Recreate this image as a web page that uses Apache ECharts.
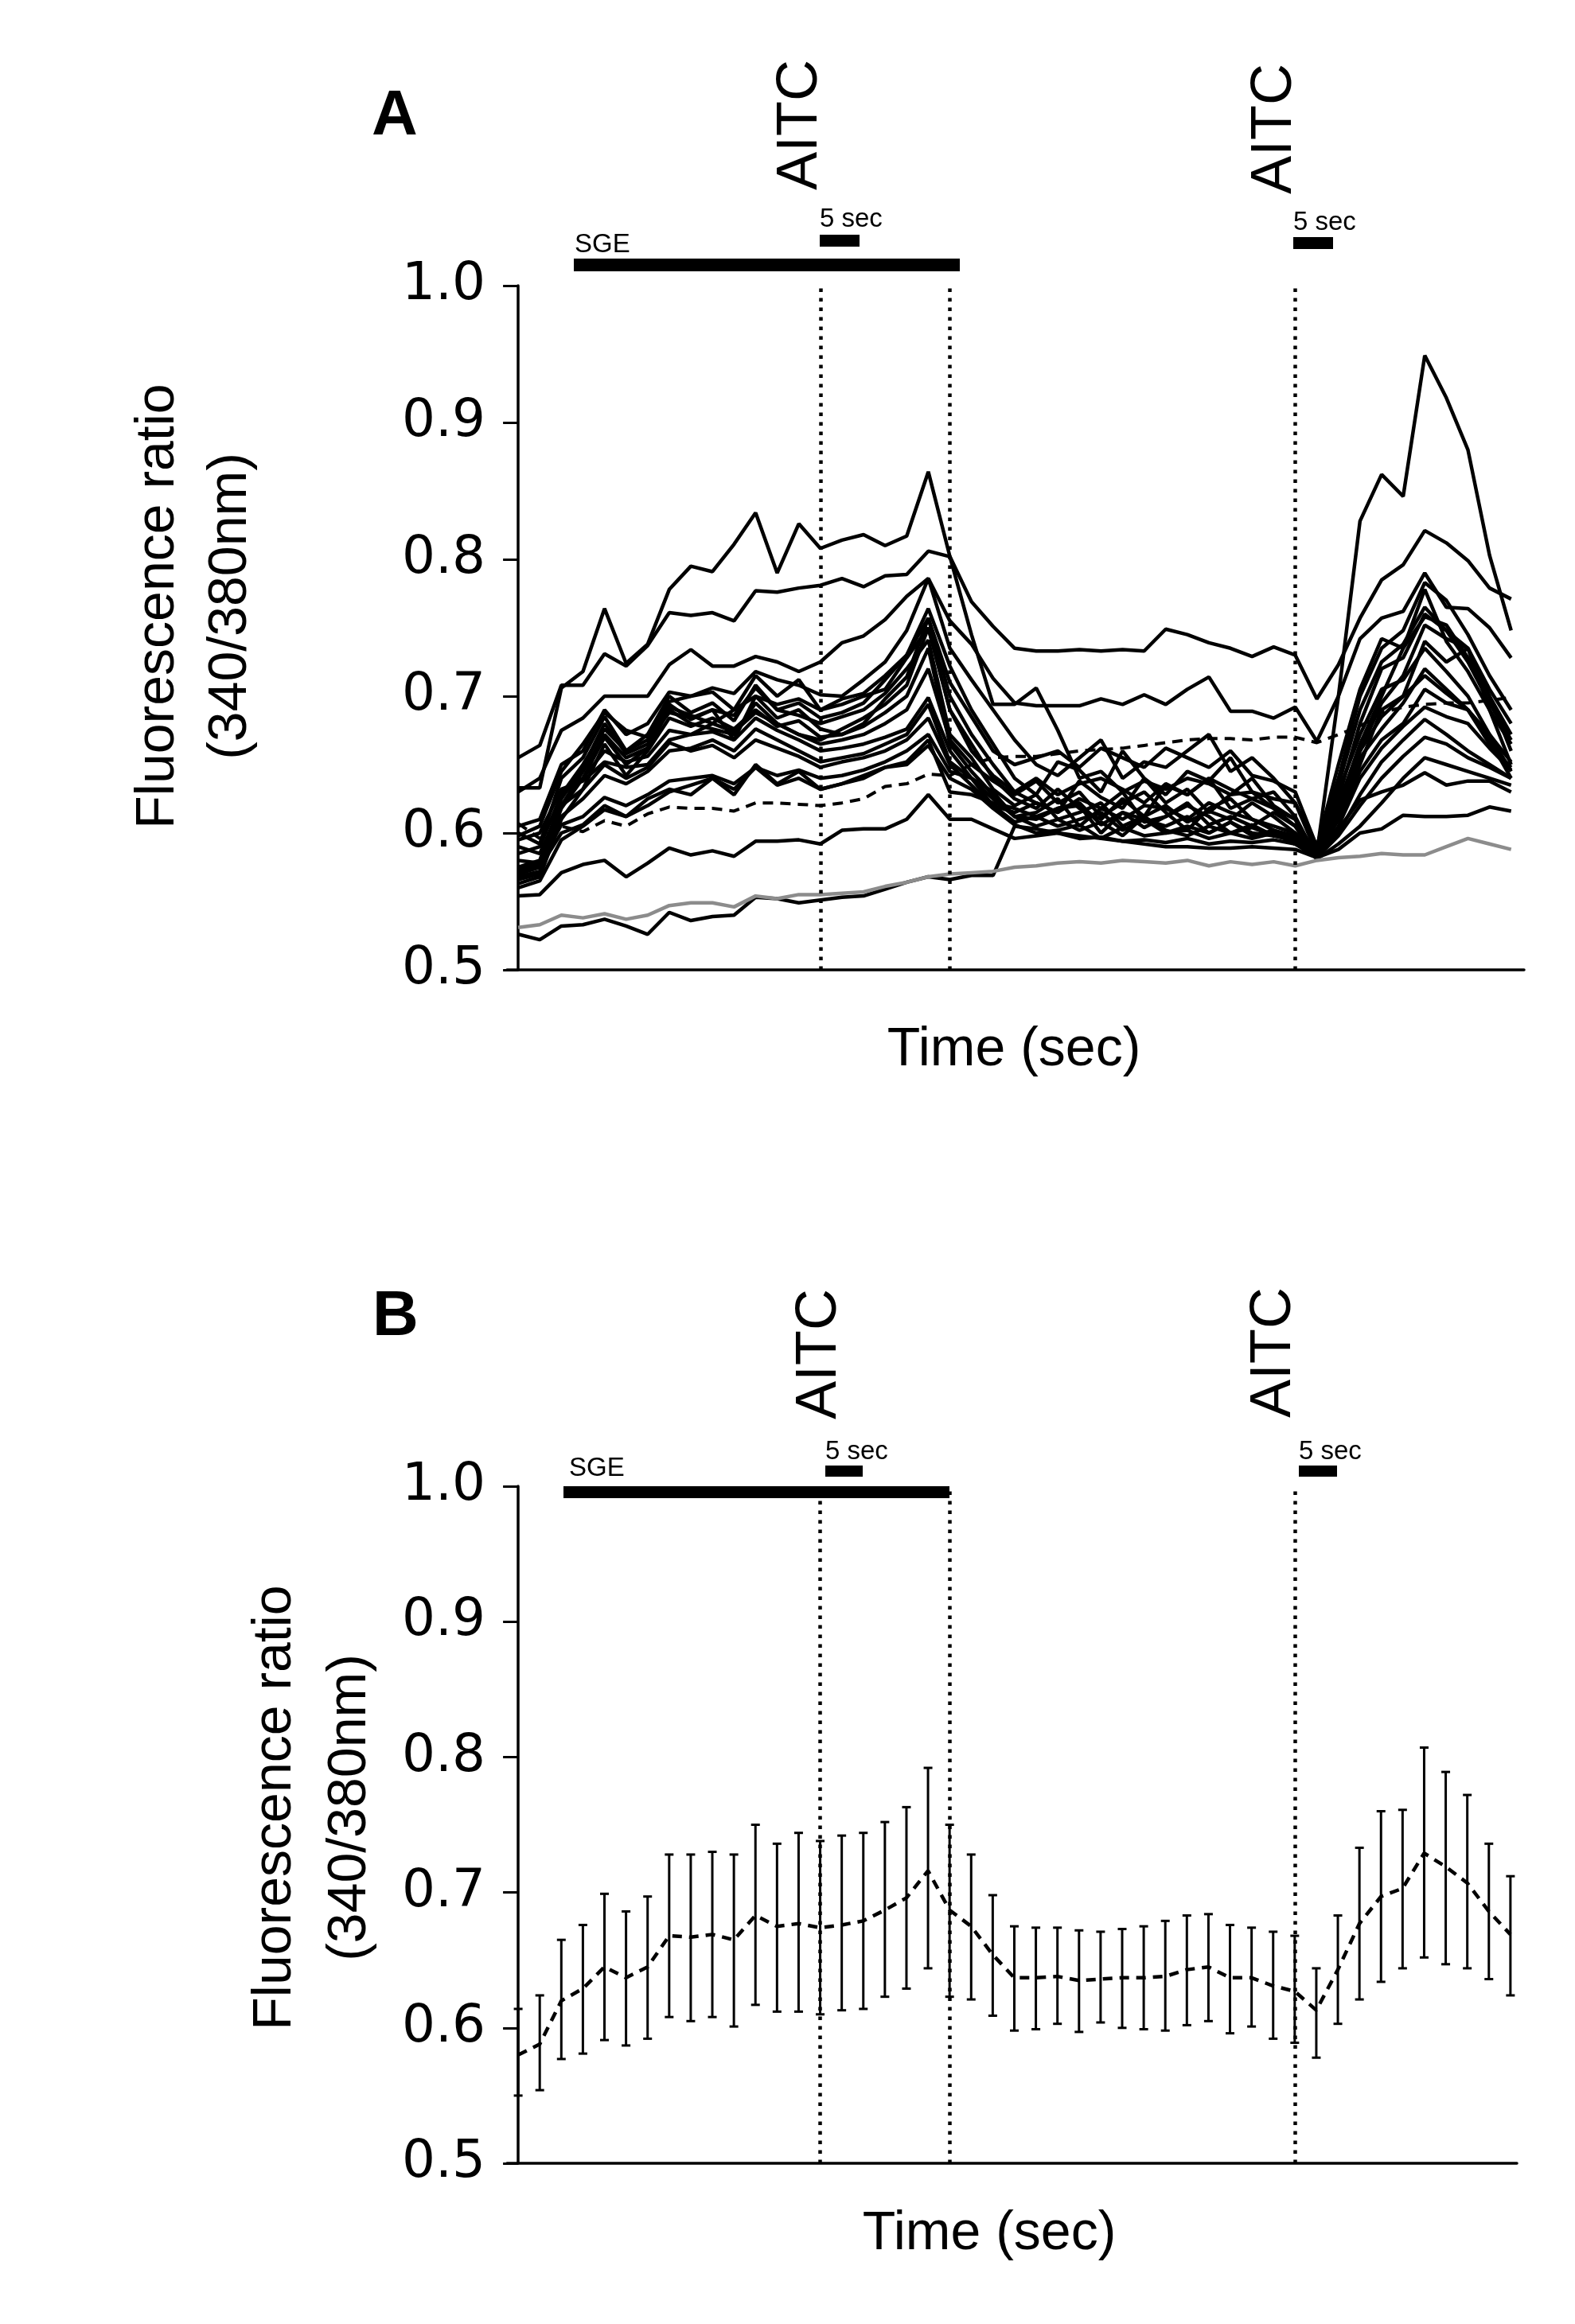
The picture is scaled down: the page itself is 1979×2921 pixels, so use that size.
<!DOCTYPE html>
<html>
<head>
<meta charset="utf-8">
<script src="https://cdn.jsdelivr.net/npm/echarts/dist/echarts.min.js"></script>
<style>
  html, body { margin: 0; padding: 0; background: #fff; }
  #chart { width: 1979px; height: 2921px; }
</style>
</head>
<body>
<div id="chart"></div>
<script>
// frame index (time points)
var frames = [0,1,2,3,4,5,6,7,8,9,10,11,12,13,14,15,16,17,18,19,20,21,22,23,24,25,26,27,28,29,30,31,32,33,34,35,36,37,38,39,40,41,42,43,44,45,46];
var yTicks = [0.5, 0.6, 0.7, 0.8, 0.9, 1.0];
var stimFrames = [14, 20, 36]; // AITC on, SGE off / AITC off, AITC on

// panel A: individual cells
var cell01 = [0.633,0.633,0.706,0.718,0.764,0.724,0.738,0.778,0.795,0.791, 0.811,0.834,0.790,0.826,0.808,0.814,0.818,0.810,0.817,0.864, 0.802,0.769,0.751,0.735,0.733,0.733,0.734,0.733,0.734,0.733, 0.749,0.745,0.739,0.735,0.729,0.736,0.730,0.698,0.723,0.757, 0.785,0.796,0.821,0.812,0.799,0.779,0.771];
var cell02 = [0.655,0.664,0.708,0.708,0.731,0.722,0.737,0.761,0.759,0.761, 0.755,0.777,0.776,0.779,0.781,0.786,0.780,0.788,0.789,0.806, 0.802,0.745,0.694,0.694,0.706,0.675,0.640,0.645,0.630,0.638, 0.632,0.640,0.636,0.628,0.630,0.625,0.622,0.585,0.700,0.828, 0.862,0.846,0.949,0.918,0.880,0.803,0.748];
var cell03 = [0.630,0.640,0.675,0.684,0.700,0.700,0.700,0.723,0.734,0.722, 0.722,0.729,0.725,0.718,0.725,0.739,0.744,0.756,0.773,0.786, 0.755,0.738,0.713,0.695,0.693,0.693,0.693,0.698,0.694,0.701, 0.694,0.705,0.714,0.689,0.689,0.684,0.692,0.667,0.700,0.742, 0.757,0.762,0.790,0.765,0.764,0.750,0.728];
var cell04 = [0.605,0.610,0.650,0.660,0.690,0.672,0.680,0.703,0.700,0.706, 0.702,0.718,0.712,0.708,0.701,0.700,0.712,0.725,0.748,0.786, 0.735,0.712,0.690,0.668,0.650,0.642,0.655,0.668,0.640,0.652, 0.648,0.660,0.672,0.645,0.655,0.640,0.622,0.590,0.640,0.700, 0.735,0.748,0.783,0.770,0.745,0.715,0.690];
var cell05 = [0.600,0.592,0.640,0.655,0.685,0.660,0.672,0.700,0.688,0.695, 0.682,0.708,0.690,0.695,0.684,0.688,0.695,0.712,0.730,0.764, 0.722,0.690,0.665,0.640,0.628,0.652,0.646,0.630,0.660,0.640, 0.628,0.645,0.638,0.655,0.630,0.618,0.605,0.582,0.625,0.680, 0.720,0.728,0.760,0.748,0.735,0.705,0.680];
var cell06 = [0.575,0.580,0.625,0.648,0.680,0.658,0.665,0.694,0.683,0.690, 0.668,0.700,0.684,0.690,0.676,0.672,0.680,0.698,0.714,0.757, 0.700,0.672,0.650,0.630,0.622,0.615,0.638,0.626,0.618,0.640, 0.622,0.632,0.615,0.628,0.640,0.620,0.610,0.583,0.620,0.665, 0.700,0.735,0.778,0.740,0.718,0.690,0.665];
var cell07 = [0.570,0.575,0.618,0.640,0.670,0.650,0.662,0.690,0.680,0.676, 0.672,0.695,0.680,0.672,0.668,0.676,0.684,0.694,0.708,0.750, 0.690,0.665,0.640,0.625,0.618,0.632,0.618,0.610,0.625,0.612, 0.635,0.628,0.640,0.618,0.625,0.630,0.612,0.582,0.615,0.660, 0.695,0.715,0.752,0.742,0.735,0.700,0.660];
var cell08 = [0.566,0.570,0.628,0.650,0.676,0.660,0.668,0.688,0.684,0.690, 0.686,0.706,0.690,0.686,0.680,0.685,0.690,0.702,0.720,0.741, 0.672,0.655,0.632,0.620,0.628,0.610,0.615,0.622,0.605,0.612, 0.620,0.608,0.616,0.610,0.622,0.612,0.600,0.582,0.612,0.650, 0.690,0.700,0.740,0.725,0.735,0.690,0.650];
var cell09 = [0.563,0.568,0.610,0.632,0.665,0.642,0.660,0.684,0.678,0.684, 0.676,0.690,0.678,0.682,0.670,0.672,0.678,0.688,0.700,0.735, 0.665,0.645,0.628,0.612,0.615,0.625,0.605,0.618,0.630,0.608, 0.612,0.622,0.606,0.612,0.605,0.615,0.605,0.582,0.630,0.672, 0.705,0.712,0.735,0.718,0.700,0.672,0.645];
var cell10 = [0.585,0.590,0.628,0.640,0.660,0.652,0.656,0.675,0.672,0.680, 0.674,0.688,0.680,0.672,0.665,0.668,0.672,0.680,0.690,0.720, 0.668,0.650,0.638,0.628,0.638,0.622,0.630,0.612,0.622,0.630, 0.615,0.602,0.618,0.625,0.610,0.602,0.598,0.583,0.618,0.655, 0.676,0.695,0.720,0.705,0.690,0.668,0.640];
var cell11 = [0.595,0.600,0.632,0.638,0.652,0.648,0.650,0.668,0.672,0.674, 0.668,0.684,0.675,0.668,0.660,0.662,0.665,0.670,0.676,0.699, 0.660,0.640,0.625,0.612,0.610,0.618,0.620,0.600,0.615,0.604, 0.612,0.620,0.612,0.600,0.606,0.598,0.595,0.582,0.610,0.645, 0.668,0.680,0.705,0.695,0.690,0.672,0.652];
var cell12 = [0.580,0.578,0.612,0.625,0.642,0.636,0.645,0.660,0.662,0.668, 0.660,0.676,0.668,0.660,0.652,0.655,0.658,0.665,0.672,0.694, 0.652,0.640,0.620,0.608,0.612,0.605,0.610,0.615,0.602,0.610, 0.600,0.605,0.600,0.608,0.598,0.602,0.596,0.582,0.605,0.640, 0.662,0.678,0.692,0.685,0.680,0.662,0.646];
var cell13 = [0.574,0.577,0.606,0.612,0.626,0.620,0.628,0.638,0.640,0.642, 0.636,0.648,0.642,0.646,0.640,0.642,0.646,0.652,0.660,0.672, 0.645,0.640,0.630,0.612,0.605,0.610,0.602,0.608,0.598,0.612, 0.602,0.598,0.605,0.600,0.604,0.598,0.594,0.582,0.600,0.628, 0.652,0.668,0.683,0.672,0.660,0.650,0.640];
var cell14 = [0.560,0.565,0.595,0.605,0.617,0.612,0.620,0.630,0.635,0.640, 0.628,0.650,0.636,0.645,0.632,0.636,0.640,0.648,0.650,0.664, 0.640,0.632,0.618,0.606,0.600,0.602,0.606,0.596,0.604,0.598, 0.600,0.602,0.596,0.600,0.596,0.600,0.592,0.582,0.598,0.620, 0.640,0.656,0.670,0.665,0.655,0.648,0.640];
var cell15 = [0.598,0.605,0.645,0.665,0.688,0.675,0.670,0.696,0.700,0.703, 0.690,0.715,0.700,0.712,0.690,0.698,0.702,0.715,0.730,0.757, 0.710,0.685,0.660,0.650,0.655,0.660,0.648,0.662,0.655,0.648, 0.662,0.655,0.648,0.660,0.642,0.638,0.630,0.590,0.650,0.705, 0.742,0.735,0.758,0.752,0.728,0.700,0.672];
var cell16 = [0.590,0.585,0.620,0.632,0.650,0.640,0.648,0.666,0.660,0.664, 0.655,0.668,0.662,0.656,0.648,0.652,0.655,0.660,0.668,0.684, 0.650,0.635,0.620,0.615,0.622,0.615,0.625,0.618,0.610,0.620, 0.618,0.610,0.622,0.615,0.610,0.605,0.600,0.584,0.622,0.660, 0.685,0.700,0.715,0.702,0.690,0.665,0.648];
var cell17 = [0.572,0.575,0.600,0.606,0.620,0.612,0.625,0.632,0.628,0.640, 0.632,0.648,0.635,0.640,0.632,0.636,0.642,0.648,0.652,0.668, 0.630,0.628,0.622,0.618,0.612,0.618,0.622,0.606,0.615,0.610, 0.605,0.612,0.600,0.608,0.600,0.598,0.598,0.581,0.592,0.605, 0.622,0.640,0.655,0.650,0.645,0.640,0.635];
var cell18 = [0.568,0.572,0.620,0.645,0.672,0.655,0.662,0.692,0.686,0.680, 0.690,0.700,0.694,0.698,0.690,0.694,0.700,0.705,0.728,0.750, 0.690,0.660,0.642,0.630,0.640,0.628,0.636,0.640,0.632,0.622, 0.636,0.628,0.640,0.632,0.625,0.618,0.610,0.583,0.635,0.690, 0.725,0.738,0.765,0.748,0.725,0.695,0.668];
var cell19 = [0.554,0.555,0.571,0.577,0.580,0.568,0.578,0.589,0.584,0.587, 0.583,0.594,0.594,0.595,0.592,0.602,0.603,0.603,0.610,0.628, 0.610,0.610,0.603,0.596,0.598,0.600,0.596,0.597,0.594,0.595, 0.593,0.596,0.592,0.594,0.593,0.595,0.592,0.584,0.603,0.624, 0.630,0.635,0.644,0.635,0.638,0.638,0.630];
var cell20 = [0.526,0.522,0.532,0.533,0.537,0.532,0.526,0.542,0.536,0.539, 0.540,0.553,0.552,0.549,0.551,0.553,0.554,0.559,0.564,0.568, 0.566,0.569,0.569,0.605,0.603,0.600,0.598,0.596,0.594,0.592, 0.590,0.590,0.589,0.589,0.590,0.589,0.588,0.582,0.588,0.600, 0.603,0.613,0.612,0.612,0.613,0.619,0.616];
var greyCell = [0.531,0.533,0.540,0.538,0.541,0.537,0.540,0.547,0.549,0.549, 0.546,0.554,0.552,0.555,0.555,0.556,0.557,0.561,0.564,0.568, 0.570,0.571,0.572,0.575,0.576,0.578,0.579,0.578,0.580,0.579, 0.578,0.580,0.576,0.579,0.577,0.579,0.576,0.580,0.582,0.583, 0.585,0.584,0.584,0.590,0.596,0.592,0.588];
var dashedCell = [0.607,0.596,0.605,0.601,0.609,0.605,0.614,0.619,0.618,0.618, 0.616,0.622,0.622,0.621,0.620,0.622,0.625,0.634,0.636,0.643, 0.642,0.650,0.655,0.656,0.656,0.658,0.660,0.661,0.662,0.664, 0.666,0.668,0.669,0.669,0.668,0.670,0.670,0.666,0.672,0.678, 0.688,0.692,0.694,0.695,0.695,0.697,0.699];
var blackCells = [cell01,cell02,cell03,cell04,cell05,cell06,cell07,cell08,cell09,cell10,
                  cell11,cell12,cell13,cell14,cell15,cell16,cell17,cell18,cell19,cell20];

// panel B: mean with error bars
var meanB = [0.580,0.588,0.620,0.629,0.645,0.637,0.645,0.668,0.667,0.669, 0.665,0.683,0.675,0.677,0.674,0.676,0.679,0.687,0.696,0.716, 0.687,0.675,0.654,0.637,0.637,0.638,0.635,0.636,0.637,0.637, 0.638,0.643,0.645,0.637,0.637,0.631,0.627,0.613,0.643,0.677, 0.697,0.703,0.729,0.719,0.707,0.686,0.669];
var highB = [0.614,0.624,0.665,0.676,0.699,0.686,0.697,0.728,0.728,0.730, 0.728,0.750,0.736,0.744,0.738,0.742,0.744,0.752,0.763,0.792, 0.750,0.728,0.698,0.675,0.674,0.674,0.672,0.671,0.673,0.675, 0.679,0.683,0.684,0.676,0.674,0.671,0.668,0.644,0.683,0.733, 0.760,0.761,0.807,0.789,0.772,0.736,0.712];
var lowB = [0.550,0.554,0.577,0.581,0.591,0.587,0.592,0.608,0.605,0.608, 0.601,0.617,0.612,0.612,0.610,0.613,0.614,0.623,0.629,0.644, 0.623,0.621,0.609,0.598,0.599,0.603,0.597,0.604,0.600,0.599, 0.598,0.602,0.605,0.596,0.601,0.592,0.589,0.578,0.603,0.621, 0.634,0.644,0.652,0.647,0.644,0.636,0.624];

function pairs(vals) {
  return frames.map(function (f, i) { return [f, vals[i]]; });
}

var FONT = '"Liberation Sans", Arial, sans-serif';
var TICKFONT = '"DejaVu Sans", sans-serif';

var myChart = echarts.init(document.getElementById('chart'), null, { renderer: 'canvas' });

function yAxisCfg(gi) {
  return {
    type: 'value', gridIndex: gi, min: 0.5, max: 1.0, interval: 0.1,
    axisLine: { show: true, lineStyle: { color: '#000', width: 3.5 } },
    axisTick: { show: true, length: 19, lineStyle: { color: '#000', width: 3 } },
    axisLabel: {
      color: '#000', fontSize: 66, fontFamily: TICKFONT, margin: 27,
      formatter: function (v) { return v.toFixed(1); }
    },
    splitLine: { show: false }
  };
}
function xAxisCfg(gi, maxV) {
  return {
    type: 'value', gridIndex: gi, min: -0.52, max: maxV,
    axisLine: { show: true, onZero: false, lineStyle: { color: '#000', width: 3.5 } },
    axisTick: { show: false }, axisLabel: { show: false }, splitLine: { show: false }
  };
}

var stimLine = {
  silent: true, symbol: 'none', animation: false,
  label: { show: false },
  lineStyle: { color: '#000', width: 4.5, type: [4.5, 7.5] },
  data: stimFrames.map(function (f) { return { xAxis: f }; })
};

var series = [];
blackCells.forEach(function (c) {
  series.push({
    type: 'line', xAxisIndex: 0, yAxisIndex: 0, data: pairs(c),
    showSymbol: false, silent: true, animation: false,
    lineStyle: { color: '#000', width: 4.5 }
  });
});
series.push({
  type: 'line', xAxisIndex: 0, yAxisIndex: 0, data: pairs(greyCell),
  showSymbol: false, silent: true, animation: false,
  lineStyle: { color: '#8c8c8c', width: 4.5 },
  markLine: stimLine
});
series.push({
  type: 'line', xAxisIndex: 0, yAxisIndex: 0, data: pairs(dashedCell),
  showSymbol: false, silent: true, animation: false,
  lineStyle: { color: '#000', width: 4, type: [13, 9] }
});

// panel B error bars
series.push({
  type: 'custom', xAxisIndex: 1, yAxisIndex: 1, silent: true, animation: false,
  data: frames.map(function (f, i) { return [f, lowB[i], highB[i]]; }),
  encode: { x: 0, y: [1, 2] },
  renderItem: function (params, api) {
    var x = api.value(0);
    var pLo = api.coord([x, api.value(1)]);
    var pHi = api.coord([x, api.value(2)]);
    var cap = 5.5;
    var st = { stroke: '#000', lineWidth: 3 };
    return {
      type: 'group',
      children: [
        { type: 'line', shape: { x1: pLo[0], y1: pLo[1], x2: pHi[0], y2: pHi[1] }, style: st },
        { type: 'line', shape: { x1: pLo[0] - cap, y1: pLo[1], x2: pLo[0] + cap, y2: pLo[1] }, style: st },
        { type: 'line', shape: { x1: pHi[0] - cap, y1: pHi[1], x2: pHi[0] + cap, y2: pHi[1] }, style: st }
      ]
    };
  }
});
series.push({
  type: 'line', xAxisIndex: 1, yAxisIndex: 1, data: pairs(meanB),
  showSymbol: false, silent: true, animation: false,
  lineStyle: { color: '#000', width: 4.5, type: [12, 9] },
  markLine: stimLine
});

function txt(x, y, text, size, opts) {
  opts = opts || {};
  return {
    type: 'text', x: x, y: y, rotation: opts.rot || 0, silent: true,
    style: {
      text: text, fill: '#000',
      font: (opts.bold ? 'bold ' : '') + size + 'px ' + (opts.family || FONT),
      textAlign: opts.align || 'center', textVerticalAlign: 'middle',
      align: opts.align || 'center', verticalAlign: 'middle'
    }
  };
}
function bar(x1, y1, x2, y2) {
  return { type: 'rect', silent: true, shape: { x: x1, y: y1, width: x2 - x1, height: y2 - y1 }, style: { fill: '#000' } };
}

var R = Math.PI / 2;
var graphics = [
  // panel A
  txt(496, 147, 'A', 80, { bold: true }),
  txt(1006, 157, 'AITC', 72, { rot: R }),
  txt(1602, 162, 'AITC', 72, { rot: R }),
  txt(1030, 276, '5 sec', 33, { align: 'left' }),
  txt(1625, 280, '5 sec', 33, { align: 'left' }),
  txt(722, 308, 'SGE', 33, { align: 'left' }),
  bar(1030, 295, 1080, 310),
  bar(1625, 298, 1675, 313),
  bar(721, 325, 1206, 341),
  txt(199, 762, 'Fluorescence ratio', 68, { rot: R }),
  txt(290, 762, '(340/380nm)', 68, { rot: R }),
  txt(1274, 1320, 'Time (sec)', 68),
  // panel B
  txt(497, 1656, 'B', 80, { bold: true }),
  txt(1030, 1702, 'AITC', 72, { rot: R }),
  txt(1601, 1700, 'AITC', 72, { rot: R }),
  txt(1037, 1825, '5 sec', 33, { align: 'left' }),
  txt(1632, 1825, '5 sec', 33, { align: 'left' }),
  txt(715, 1846, 'SGE', 33, { align: 'left' }),
  bar(1037, 1842, 1084, 1856),
  bar(1632, 1842, 1680, 1856),
  bar(708, 1868, 1193, 1883),
  txt(346, 2272, 'Fluorescence ratio', 68, { rot: R }),
  txt(440, 2272, '(340/380nm)', 68, { rot: R }),
  txt(1243, 2808, 'Time (sec)', 68)
];

var option = {
  backgroundColor: '#fff',
  animation: false,
  grid: [
    { left: 637, top: 359, width: 1278, height: 860 },
    { left: 637, top: 1868, width: 1269, height: 851 }
  ],
  xAxis: [xAxisCfg(0, 46.6), xAxisCfg(1, 46.3)],
  yAxis: [yAxisCfg(0), yAxisCfg(1)],
  series: series,
  graphic: graphics
};

myChart.setOption(option);
</script>
</body>
</html>
